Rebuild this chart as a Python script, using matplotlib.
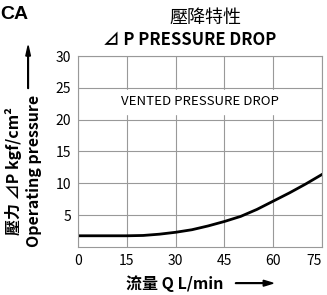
import numpy as np
import matplotlib
matplotlib.use("Agg")
import matplotlib.pyplot as plt
from matplotlib.patches import FancyArrow

plt.rcParams['font.family'] = ['Noto Sans CJK TC', 'DejaVu Sans']

flow = [0, 10, 15, 20, 25, 30, 35, 40, 45, 50, 55, 60, 65, 70, 75]
pressure = [1.75, 1.75, 1.75, 1.8, 2.0, 2.3, 2.7, 3.3, 4.0, 4.8, 5.9, 7.2, 8.5, 9.9, 11.4]
xticks = [0, 15, 30, 45, 60, 75]
yticks = [5, 10, 15, 20, 25, 30]

fig = plt.figure(figsize=(3.27, 2.95), dpi=100)
ax = fig.add_axes([0.2385, 0.163, 0.7465, 0.647])

ax.plot(flow, pressure, color='black', lw=2)
ax.set_xlim(0, 75)
ax.set_ylim(0, 30)
ax.set_xticks(xticks)
ax.set_yticks(yticks)
ax.grid(color='#999999', lw=0.8)
for s in ax.spines.values():
    s.set_color('#999999')
    s.set_linewidth(0.8)
ax.tick_params(length=0, labelsize=10, pad=5)
ax.get_xticklabels()[-1].set_horizontalalignment('right')

ax.text(0.5, 0.76, 'VENTED PRESSURE DROP', transform=ax.transAxes,
        ha='center', va='center', fontsize=9.5,
        backgroundcolor='white')

fig.text(0.0, 0.95, 'CA', fontsize=14, fontweight='bold', va='center',
         family='Liberation Sans')
fig.text(0.627, 0.94, '壓降特性', fontsize=13,
         ha='center', va='center')
fig.text(0.581, 0.866, '⊿ P PRESSURE DROP', fontsize=12, fontweight='semibold',
         ha='center', va='center')

fig.text(0.04, 0.42, '壓力 ⊿P kgf/cm²', fontsize=11.5, fontweight='semibold',
         rotation=90, ha='center', va='center')
fig.text(0.103, 0.42, 'Operating pressure', fontsize=11.5, fontweight='semibold',
         rotation=90, ha='center', va='center')
fig.patches.append(FancyArrow(
    0.086, 0.70, 0, 0.145, width=0.002, head_width=0.014, head_length=0.035,
    transform=fig.transFigure, color='black', length_includes_head=True))

fig.text(0.535, 0.04, '流量 Q L/min', fontsize=11.5, fontweight='semibold',
         ha='center', va='center')
fig.patches.append(FancyArrow(
    0.72, 0.04, 0.115, 0, width=0.002, head_width=0.02, head_length=0.03,
    transform=fig.transFigure, color='black', length_includes_head=True))

fig.savefig('out.png', dpi=100)
